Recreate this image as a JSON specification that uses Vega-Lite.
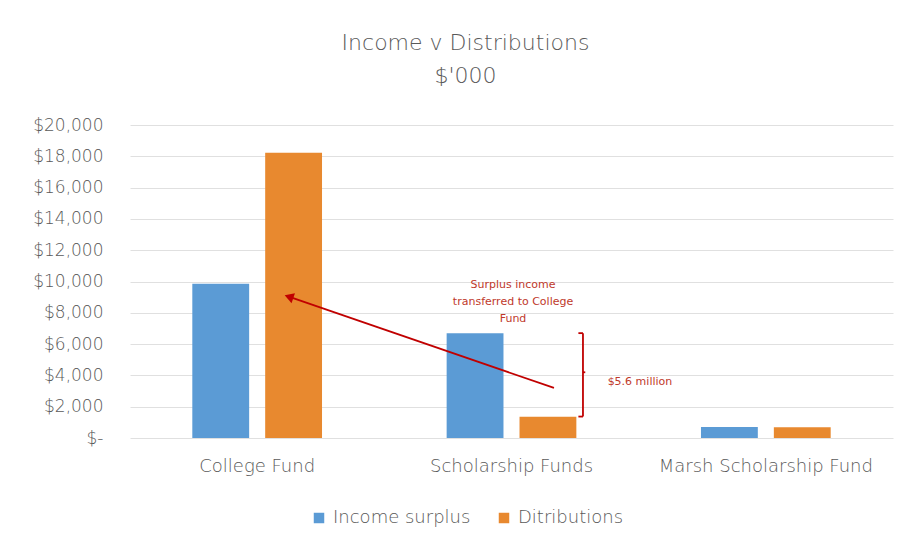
{
  "$schema": "https://vega.github.io/schema/vega-lite/v6.json",
  "width": 763,
  "height": 313,
  "autosize": "none",
  "padding": {"left": 130, "top": 125, "right": 18, "bottom": 114},
  "background": "white",
  "config": {
    "view": {"stroke": null},
    "font": "DejaVu Sans",
    "text": {"font": "DejaVu Sans"}
  },
  "title": {
    "text": ["Income v Distributions", "$'000"],
    "fontSize": 22,
    "font": "DejaVu Sans",
    "fontWeight": 200,
    "color": "#595959",
    "lineHeight": 33,
    "anchor": "middle",
    "dx": -46,
    "offset": 28
  },
  "datasets": {
    "bars": [
      {"fund": "College Fund", "series": "Income surplus", "value": 9850},
      {"fund": "College Fund", "series": "Ditributions", "value": 18230},
      {"fund": "Scholarship Funds", "series": "Income surplus", "value": 6700},
      {"fund": "Scholarship Funds", "series": "Ditributions", "value": 1350},
      {"fund": "Marsh Scholarship Fund", "series": "Income surplus", "value": 700},
      {"fund": "Marsh Scholarship Fund", "series": "Ditributions", "value": 690}
    ],
    "arrow": [
      {"x": 1.667, "value": 3200, "o": 1},
      {"x": 0.63, "value": 9000, "o": 2}
    ],
    "head": [
      {"x": 0.625, "value": 9020}
    ],
    "bracket": [
      {"x": 1.763, "x2": 1.781, "value": 6700, "value2": 6700},
      {"x": 1.763, "x2": 1.781, "value": 1370, "value2": 1370},
      {"x": 1.781, "x2": 1.781, "value": 6700, "value2": 1370},
      {"x": 1.781, "x2": 1.79, "value": 4200, "value2": 4200}
    ],
    "labels": [
      {"x": 1.506, "value": 9780, "text": ["Surplus income", "transferred to College", "Fund"]},
      {"x": 2.005, "value": 3560, "text": ["$5.6 million"]}
    ]
  },
  "encoding": {
    "y": {
      "field": "value",
      "type": "quantitative",
      "scale": {"domain": [0, 20000]},
      "axis": {
        "title": null,
        "values": [0, 2000, 4000, 6000, 8000, 10000, 12000, 14000, 16000, 18000, 20000],
        "labelExpr": "datum.value == 0 ? '$-' : '$' + format(datum.value, ',')",
        "labelOverlap": false,
        "labelFontSize": 17,
        "labelFont": "DejaVu Sans",
        "labelFontWeight": 200,
        "labelColor": "#595959",
        "labelPadding": 27,
        "ticks": false,
        "domain": false,
        "gridColor": "#e0e0e0",
        "gridWidth": 1
      }
    }
  },
  "layer": [
    {
      "data": {"name": "bars"},
      "mark": {"type": "bar"},
      "encoding": {
        "x": {
          "field": "fund",
          "type": "nominal",
          "sort": ["College Fund", "Scholarship Funds", "Marsh Scholarship Fund"],
          "scale": {"paddingInner": 0.49, "paddingOuter": 0.245},
          "axis": {
            "title": null,
            "labelAngle": 0,
            "labelFontSize": 18,
            "labelFont": "DejaVu Sans",
            "labelFontWeight": 200,
            "labelColor": "#595959",
            "labelPadding": 19,
            "labelLimit": 400,
            "ticks": false,
            "domain": false,
            "grid": false
          }
        },
        "xOffset": {
          "field": "series",
          "type": "nominal",
          "sort": ["Income surplus", "Ditributions"],
          "scale": {"paddingInner": 0.22, "paddingOuter": 0}
        },
        "color": {
          "field": "series",
          "type": "nominal",
          "sort": ["Income surplus", "Ditributions"],
          "scale": {"domain": ["Income surplus", "Ditributions"], "range": ["#5b9bd5", "#e8892f"]},
          "legend": {
            "title": null,
            "orient": "none",
            "direction": "horizontal",
            "legendX": 180,
            "legendY": 384,
            "symbolType": "square",
            "symbolSize": 110,
            "symbolStrokeWidth": 0,
            "labelFontSize": 18,
            "labelFont": "DejaVu Sans",
            "labelFontWeight": 200,
            "labelColor": "#595959",
            "columnPadding": 24,
            "labelOffset": 5,
            "labelLimit": 300
          }
        }
      }
    },
    {
      "data": {"name": "arrow"},
      "mark": {"type": "line", "color": "#c00000", "strokeWidth": 1.8},
      "encoding": {
        "x": {"field": "x", "type": "quantitative", "scale": {"domain": [0, 3]}, "axis": null},
        "order": {"field": "o"}
      }
    },
    {
      "data": {"name": "head"},
      "mark": {"type": "point", "shape": "triangle-up", "filled": true, "color": "#c00000", "size": 110, "angle": 289, "opacity": 1},
      "encoding": {
        "x": {"field": "x", "type": "quantitative", "scale": {"domain": [0, 3]}, "axis": null}
      }
    },
    {
      "data": {"name": "bracket"},
      "mark": {"type": "rule", "color": "#c00000", "strokeWidth": 1.8},
      "encoding": {
        "x": {"field": "x", "type": "quantitative", "scale": {"domain": [0, 3]}, "axis": null},
        "x2": {"field": "x2"},
        "y2": {"field": "value2"}
      }
    },
    {
      "data": {"name": "labels"},
      "mark": {"type": "text", "color": "#c0392b", "fontSize": 11, "font": "DejaVu Sans", "fontWeight": "normal", "align": "center", "baseline": "middle", "lineHeight": 17},
      "encoding": {
        "x": {"field": "x", "type": "quantitative", "scale": {"domain": [0, 3]}, "axis": null},
        "text": {"field": "text"}
      }
    }
  ],
  "resolve": {"scale": {"x": "independent"}}
}
